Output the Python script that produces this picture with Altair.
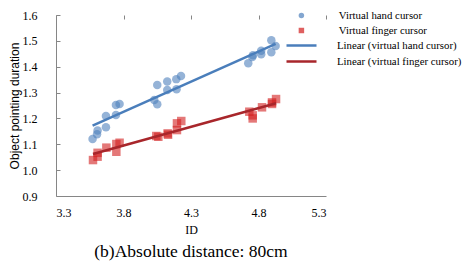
import altair as alt
import pandas as pd

# ---- data ----
hand_id = [3.571, 3.604, 3.608, 3.670, 3.670, 3.744, 3.744, 3.771,
           4.028, 4.050, 4.050, 4.124, 4.124, 4.191, 4.193, 4.226,
           4.724, 4.754, 4.759, 4.820, 4.820, 4.895, 4.895, 4.927]
hand_dur = [1.120, 1.139, 1.153, 1.209, 1.166, 1.213, 1.252, 1.256,
            1.271, 1.255, 1.329, 1.343, 1.310, 1.352, 1.313, 1.364,
            1.413, 1.438, 1.444, 1.448, 1.462, 1.502, 1.456, 1.480]

finger_id = [3.574, 3.608, 3.608, 3.673, 3.747, 3.747, 3.771,
             4.043, 4.058, 4.127, 4.130, 4.196, 4.196, 4.228,
             4.732, 4.757, 4.757, 4.826, 4.900, 4.900, 4.930]
finger_dur = [1.039, 1.052, 1.067, 1.087, 1.071, 1.101, 1.106,
              1.132, 1.129, 1.142, 1.137, 1.181, 1.155, 1.190,
              1.226, 1.200, 1.212, 1.243, 1.256, 1.262, 1.275]

series = ["Virtual hand cursor", "Virtual finger cursor"]
fit_names = ["Linear (virtual hand cursor)", "Linear (virtual finger cursor)"]
x_ticks = [3.3, 3.8, 4.3, 4.8, 5.3]
y_ticks = [0.9, 1.0, 1.1, 1.2, 1.3, 1.4, 1.5, 1.6]

df = pd.DataFrame({
    "ID": hand_id + finger_id,
    "dur": hand_dur + finger_dur,
    "series": [series[0]] * len(hand_id) + [series[1]] * len(finger_id),
})

SERIF = "Liberation Serif"
SANS = "Liberation Sans"

x_enc = alt.X("ID:Q",
              scale=alt.Scale(domain=[3.3, 5.3], nice=False, zero=False),
              axis=alt.Axis(values=x_ticks, format=".1f", title="ID",
                            labelPadding=11, titlePadding=6,
                            titleFont=SERIF, titleFontSize=12))
y_enc = alt.Y("dur:Q",
              scale=alt.Scale(domain=[0.9, 1.6], nice=False, zero=False),
              axis=alt.Axis(values=y_ticks, format=".1f",
                            title="Object pointing duration",
                            labelPadding=19, titlePadding=1,
                            titleFont=SANS, titleFontSize=12))

pt_legend = alt.Legend(title=None, orient="none", legendX=240, legendY=-5,
                       symbolSize=30, labelOffset=32, padding=0,
                       rowPadding=3, clipHeight=11, symbolOpacity=0.7,
                       labelFont=SERIF, labelFontSize=10.8, labelColor="black")

points = alt.Chart(df).mark_point(filled=True, size=72, opacity=0.6).encode(
    x=x_enc, y=y_enc,
    color=alt.Color("series:N",
                    scale=alt.Scale(domain=series, range=["#4F81BD", "#D21E1E"]),
                    legend=pt_legend),
    shape=alt.Shape("series:N",
                    scale=alt.Scale(domain=series, range=["circle", "square"]),
                    legend=pt_legend),
)

lines = alt.Chart(df).transform_regression(
    "ID", "dur", groupby=["series"]
).transform_calculate(
    fit="'Linear (' + lower(datum.series) + ')'"
).mark_line(strokeWidth=2.5).encode(
    x=x_enc, y=y_enc,
    stroke=alt.Stroke("fit:N",
                      scale=alt.Scale(domain=fit_names, range=["#4A7EBB", "#A8262B"]),
                      legend=alt.Legend(title=None, orient="none", legendX=229, legendY=24,
                                        symbolType="stroke", symbolSize=900,
                                        symbolStrokeWidth=2.5, labelOffset=19,
                                        padding=0, rowPadding=3, clipHeight=13,
                                        labelFont=SERIF, labelFontSize=10.8,
                                        labelColor="black")),
)

chart = alt.layer(points, lines).properties(
    width=270, height=181,
    autosize=alt.AutoSizeParams(type="none"),
    padding={"left": 48, "top": 7, "right": 136, "bottom": 66},
    title=alt.TitleParams("(b)Absolute distance: 80cm", orient="bottom",
                          anchor="middle", font=SERIF, fontSize=17.5,
                          fontWeight="normal", color="black", offset=8),
).configure_axis(
    domainColor="#868686", domainWidth=1,
    ticks=False, tickSize=0,
    grid=True, gridColor="#868686", gridWidth=1, gridDash=[4, 1000],
    labelFont=SERIF, labelFontSize=12, labelColor="black",
    titleColor="black", titleFontWeight="normal",
).configure_view(strokeWidth=0)

chart.save("out.html", embed_options={"renderer": "svg", "actions": False})
